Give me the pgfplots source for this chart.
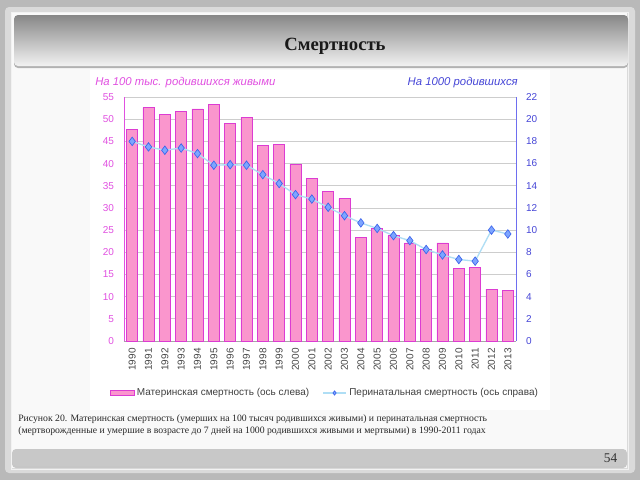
\documentclass[border=0pt]{standalone}
\usepackage{pgfplots}
\pgfplotsset{compat=1.18}
\usepackage{fontspec}
\setmainfont{Liberation Serif}
\newfontfamily\arial{Liberation Sans}
\definecolor{bgout}{RGB}{185,185,185}
\definecolor{panelband}{RGB}{218,218,218}
\definecolor{panelin}{RGB}{249,249,249}
\definecolor{footc}{RGB}{200,200,200}
\definecolor{titletop}{RGB}{135,135,135}
\definecolor{titlebot}{RGB}{242,242,242}
\definecolor{barfill}{RGB}{250,150,205}
\definecolor{bardraw}{RGB}{220,60,210}
\definecolor{lefttxt}{RGB}{225,80,225}
\definecolor{leftline}{RGB}{225,80,225}
\definecolor{righttxt}{RGB}{70,70,215}
\definecolor{rightline}{RGB}{110,110,240}
\definecolor{perline}{RGB}{175,222,245}
\definecolor{perfill}{RGB}{125,165,255}
\definecolor{perdraw}{RGB}{60,100,235}
\definecolor{gridc}{RGB}{205,205,205}
\definecolor{yeartxt}{RGB}{70,70,70}
\begin{document}
\begin{tikzpicture}
\path[use as bounding box] (0pt,0pt) rectangle (480pt,-360pt);
\begin{scope}[x=0.75pt,y=-0.75pt]
\fill[bgout] (0,0) rectangle (640,480);
\fill[panelband, rounded corners=3] (5,7) rectangle (635,473);
\draw[white!90!gray, line width=0.5] (11,12) rectangle (628,469);
\fill[panelin] (12,13) rectangle (627,468);
% title bar
\fill[gray!60, rounded corners=3] (14,17) rectangle (628,68);
\shade[top color=titletop, bottom color=titlebot, rounded corners=3] (14,15) rectangle (628,66);
\node[font=\bfseries\fontsize{14}{16}\selectfont, text=black!90] at (335,46) {Смертность};
% chart area
\fill[white] (90,70) rectangle (550,410);
% footer
\fill[gray!45, rounded corners=3] (12,451) rectangle (627,468);
\fill[footc, rounded corners=3] (12,449) rectangle (627,466);
\node[anchor=east, font=\fontsize{10}{12}\selectfont, text=black!80] at (622,458) {54};
% axis titles
\node[anchor=west, font=\arial\itshape\fontsize{8.5}{10}\selectfont, text=lefttxt, inner sep=0] at (95,83) {На 100 тыс. родившихся живыми};
\node[anchor=east, font=\arial\itshape\fontsize{8.5}{10}\selectfont, text=righttxt, inner sep=0] at (518,83) {На 1000 родившихся};
% caption
\node[anchor=west, font=\fontsize{7.3}{9}\selectfont, text=black!85, inner sep=0] at (18,419) {Рисунок 20. Материнская смертность (умерших на 100 тысяч родившихся живыми) и перинатальная смертность};
\node[anchor=west, font=\fontsize{7.3}{9}\selectfont, text=black!85, inner sep=0] at (18,431) {(мертворожденные и умершие в возрасте до 7 дней на 1000 родившихся живыми и мертвыми) в 1990-2011 годах};
\end{scope}
\begin{axis}[
  at={(93pt,-255.75pt)}, anchor=south west,
  scale only axis, width=294pt, height=183pt,
  xmin=-0.5, xmax=23.5, ymin=0, ymax=55,
  ytick={0,5,...,55},
  xtick={0,...,23},
  xticklabels={1990,1991,1992,1993,1994,1995,1996,1997,1998,1999,2000,2001,2002,2003,2004,2005,2006,2007,2008,2009,2010,2011,2012,2013},
  x tick label style={rotate=90, anchor=east, font=\arial\fontsize{7.5}{9}\selectfont, text=yeartxt},
  y tick label style={font=\arial\fontsize{7.5}{9}\selectfont, text=lefttxt},
  /pgf/number format/assume math mode=true,
  ymajorgrids, grid style={gridc, line width=0.5pt},
  axis x line*=bottom, axis y line*=left,
  x axis line style={-, draw=gray!70, line width=0.6pt},
  y axis line style={-, draw=leftline, line width=0.6pt},
  major tick length=0pt,
  yticklabel shift=4pt, xticklabel shift=2pt,
  clip=false,
]
\addplot[ybar, bar width=8.25pt, fill=barfill, draw=bardraw, line width=0.6pt] coordinates {
(0,47.7) (1,52.6) (2,51.0) (3,51.7) (4,52.3) (5,53.4) (6,49.0) (7,50.4) (8,44.0) (9,44.3)
(10,39.8) (11,36.7) (12,33.7) (13,32.1) (14,23.4) (15,25.3) (16,23.7) (17,22.1) (18,20.6) (19,22.1)
(20,16.3) (21,16.5) (22,11.7) (23,11.4)};
\end{axis}
\begin{axis}[
  at={(93pt,-255.75pt)}, anchor=south west,
  scale only axis, width=294pt, height=183pt,
  xmin=-0.5, xmax=23.5, ymin=0, ymax=22,
  ytick={0,2,...,22},
  axis x line=none, axis y line*=right,
  y axis line style={-, draw=rightline, line width=0.6pt},
  y tick label style={font=\arial\fontsize{7.5}{9}\selectfont, text=righttxt},
  /pgf/number format/assume math mode=true,
  major tick length=0pt,
  yticklabel shift=4pt,
  clip=false,
  legend columns=2,
  legend image post style={mark size=1.6pt},
  legend style={at={(0.513,-0.213)}, anchor=center, draw=none, fill=none,
    font=\arial\fontsize{7.5}{9}\selectfont, text=black!75,
    /tikz/every even column/.append style={column sep=8pt}},
]
\addlegendimage{legend image code/.code={\draw[fill=barfill, draw=bardraw, line width=0.5pt] (0pt,-1.8pt) rectangle (18pt,1.8pt);}}
\addlegendentry{Материнская смертность (ось слева)}
\addplot[perline, line width=1pt, mark=diamond*, mark size=3.2pt, mark options={fill=perfill, draw=perdraw, line width=0.5pt}] coordinates {
(0,18.0) (1,17.5) (2,17.2) (3,17.4) (4,16.9) (5,15.85) (6,15.9) (7,15.85) (8,15.0) (9,14.2)
(10,13.2) (11,12.8) (12,12.06) (13,11.3) (14,10.65) (15,10.15) (16,9.5) (17,9.05) (18,8.25) (19,7.76)
(20,7.35) (21,7.2) (22,10.0) (23,9.65)};
\addlegendentry{Перинатальная смертность (ось справа)}
\end{axis}
\end{tikzpicture}
\end{document}
